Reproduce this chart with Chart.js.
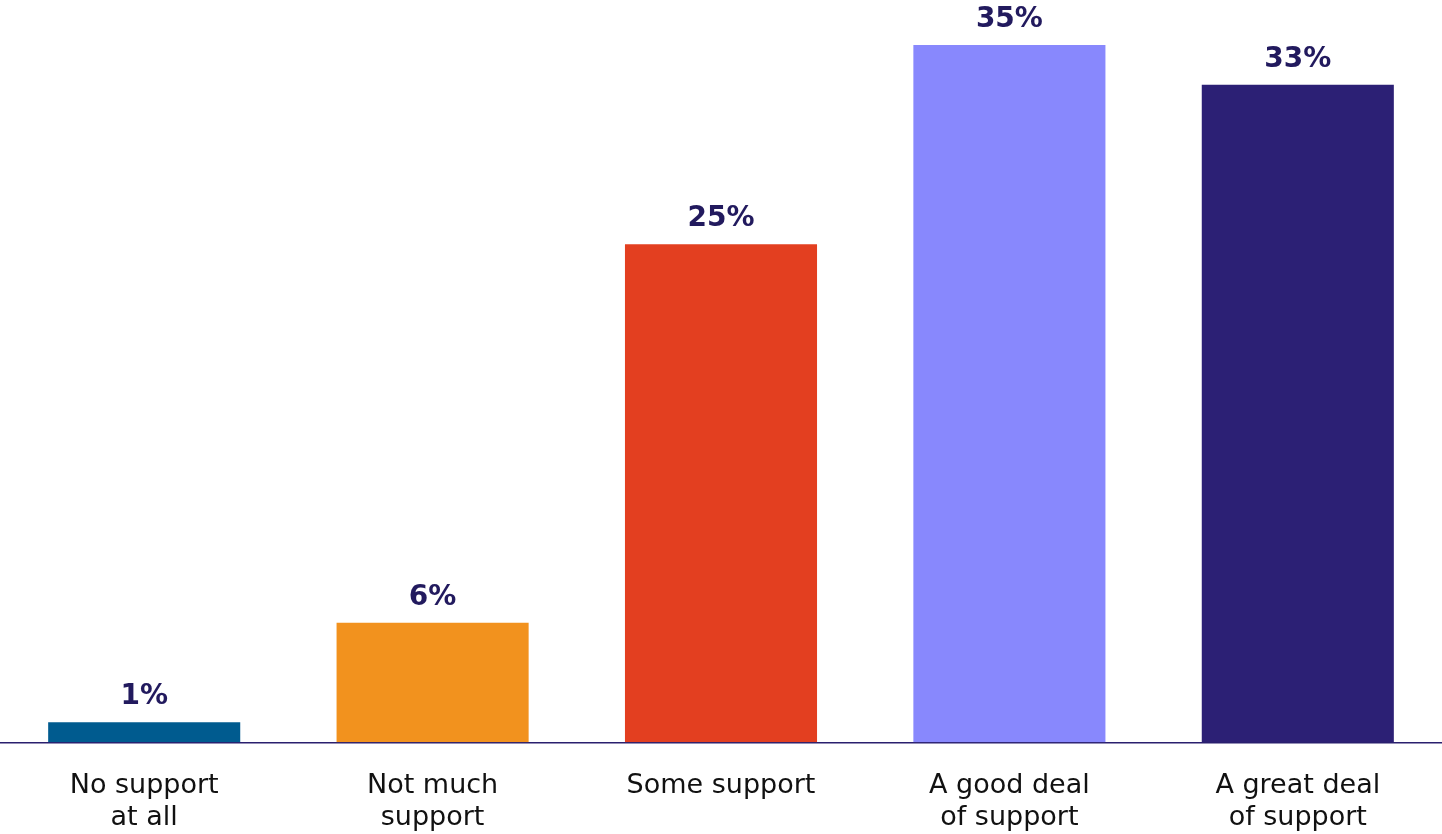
<!DOCTYPE html>
<html lang="en">
<head>
  <meta charset="UTF-8" />
  <title>Level of support</title>
  <script src="https://cdn.jsdelivr.net/npm/chart.js"></script>
  <style>
    html, body {
      margin: 0;
      padding: 0;
      background: #ffffff;
    }
    #wrap {
      width: 1442px;
      height: 834px;
    }
  </style>
</head>
<body>
  <div id="wrap">
    <canvas id="barChart"></canvas>
  </div>

  <script>
    const categories = [
      ['No support', 'at all'],
      ['Not much', 'support'],
      ['Some support'],
      ['A good deal', 'of support'],
      ['A great deal', 'of support']
    ];
    const shares = [1, 6, 25, 35, 33];
    const barColors = ['#005b8f', '#f2921e', '#e33f20', '#8888fd', '#2c2075'];

    // write the percentage above every bar
    const valueLabels = {
      id: 'valueLabels',
      afterDatasetsDraw(chart) {
        const ctx = chart.ctx;
        const meta = chart.getDatasetMeta(0);
        ctx.save();
        ctx.font = 'bold 28px "DejaVu Sans", sans-serif';
        ctx.fillStyle = '#221a5e';
        ctx.textAlign = 'center';
        ctx.textBaseline = 'alphabetic';
        meta.data.forEach((bar, i) => {
          ctx.fillText(chart.data.datasets[0].data[i] + '%', bar.x, bar.y - 18);
        });
        ctx.restore();
      }
    };

    const ctx = document.getElementById('barChart').getContext('2d');
    new Chart(ctx, {
      type: 'bar',
      data: {
        labels: categories,
        datasets: [{
          data: shares,
          backgroundColor: barColors,
          borderWidth: 0,
          barPercentage: 0.666,
          categoryPercentage: 1
        }]
      },
      options: {
        responsive: true,
        maintainAspectRatio: false,
        animation: false,
        layout: {
          // tick padding is counted twice in the axis height, pull the bottom back
          padding: { top: 45, left: 0, right: 0, bottom: -28 }
        },
        plugins: {
          legend: { display: false },
          tooltip: { enabled: false }
        },
        scales: {
          x: {
            grid: { display: false, drawTicks: false },
            border: { display: true, color: '#2a1f6e', width: 1.5 },
            ticks: {
              padding: 28,
              color: '#111111',
              maxRotation: 0,
              autoSkip: false,
              font: { family: '"DejaVu Sans", sans-serif', size: 27, lineHeight: 1.18 }
            }
          },
          y: {
            display: false,
            min: 0,
            max: 35
          }
        }
      },
      plugins: [valueLabels]
    });
  </script>
</body>
</html>
